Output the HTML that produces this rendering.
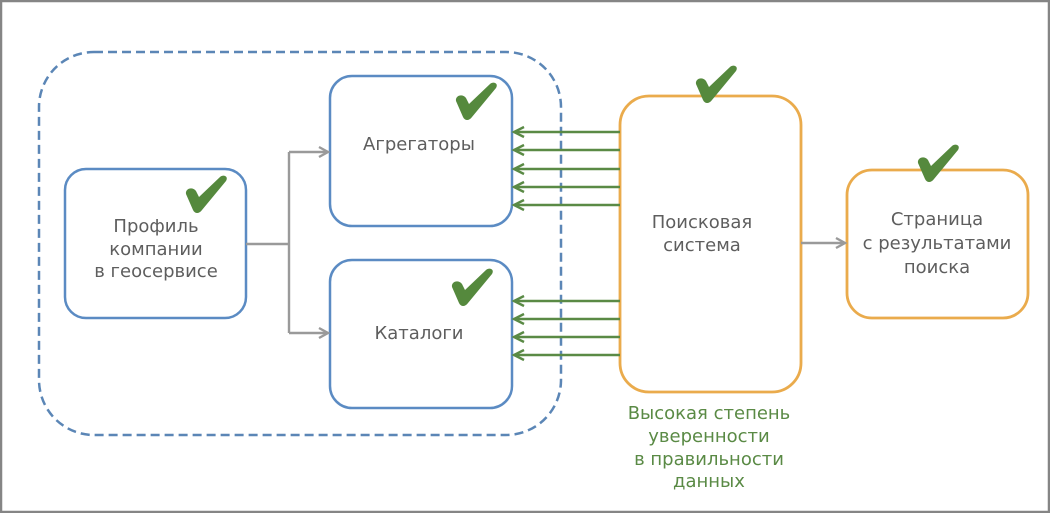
<!DOCTYPE html>
<html>
<head>
<meta charset="utf-8">
<style>
html,body{margin:0;padding:0;background:#fff;}
body{width:1050px;height:513px;overflow:hidden;}
svg{display:block;}
text{font-family:"DejaVu Sans","Liberation Sans",sans-serif;font-size:18px;}
</style>
</head>
<body>
<svg width="1050" height="513" viewBox="0 0 1050 513" xmlns="http://www.w3.org/2000/svg">
  <defs>
    <path id="chk" d="M1,19 C0,14 7,11 11,16 L14,22 L35,2 C38,-1 44,1 41,6 L17,35 C14,39 10,39 8,35 Z" fill="#55893d"/>
  </defs>
  <rect x="0" y="0" width="1050" height="513" fill="#fff"/>
  <rect x="1" y="1" width="1048" height="511" fill="none" stroke="#858585" stroke-width="2.5"/>

  <!-- dashed container -->
  <rect x="39" y="52" width="522" height="383" rx="55" ry="55" fill="none" stroke="#5b86b6" stroke-width="2.5" stroke-dasharray="9 5"/>

  <!-- blue boxes -->
  <rect x="65" y="169" width="181" height="149" rx="21" fill="#fff" stroke="#5b8bc3" stroke-width="2.5"/>
  <rect x="330" y="76" width="182" height="150" rx="22" fill="#fff" stroke="#5b8bc3" stroke-width="2.5"/>
  <rect x="330" y="260" width="182" height="148" rx="22" fill="#fff" stroke="#5b8bc3" stroke-width="2.5"/>

  <!-- orange boxes -->
  <rect x="620" y="96" width="181" height="296" rx="29" fill="#fff" stroke="#eaab4c" stroke-width="2.8"/>
  <rect x="847" y="170" width="181" height="148" rx="25" fill="#fff" stroke="#eaab4c" stroke-width="2.8"/>

  <!-- gray connectors -->
  <g stroke="#9a9a9a" stroke-width="2.4" fill="none">
    <polyline points="246,244 289,244"/>
    <polyline points="289,152 289,333"/>
    <polyline points="289,152 328,152"/>
    <polyline points="289,333 328,333"/>
    <polyline points="319,147 328,152 319,157"/>
    <polyline points="319,328 328,333 319,338"/>
    <polyline points="801,243 845,243"/>
    <polyline points="836,238 845,243 836,248"/>
  </g>

  <!-- green arrows -->
  <g stroke="#5a8a45" stroke-width="2.4" fill="none">
    <line x1="514" y1="132" x2="620" y2="132"/>
    <line x1="514" y1="150" x2="620" y2="150"/>
    <line x1="514" y1="169" x2="620" y2="169"/>
    <line x1="514" y1="187" x2="620" y2="187"/>
    <line x1="514" y1="205" x2="620" y2="205"/>
    <line x1="514" y1="301" x2="620" y2="301"/>
    <line x1="514" y1="319" x2="620" y2="319"/>
    <line x1="514" y1="337" x2="620" y2="337"/>
    <line x1="514" y1="355" x2="620" y2="355"/>
    <polyline points="524,127 514,132 524,137"/>
    <polyline points="524,145 514,150 524,155"/>
    <polyline points="524,164 514,169 524,174"/>
    <polyline points="524,182 514,187 524,192"/>
    <polyline points="524,200 514,205 524,210"/>
    <polyline points="524,296 514,301 524,306"/>
    <polyline points="524,314 514,319 524,324"/>
    <polyline points="524,332 514,337 524,342"/>
    <polyline points="524,350 514,355 524,360"/>
  </g>

  <!-- checkmarks -->
  <use href="#chk" x="185" y="175"/>
  <use href="#chk" x="455" y="82"/>
  <use href="#chk" x="451" y="268"/>
  <use href="#chk" x="695" y="65"/>
  <use href="#chk" x="917" y="144"/>

  <!-- texts -->
  <g fill="#5e5e5e" text-anchor="middle">
    <text x="156" y="232">Профиль</text>
    <text x="156" y="255">компании</text>
    <text x="156" y="277">в геосервисе</text>
    <text x="419" y="150">Агрегаторы</text>
    <text x="419" y="339">Каталоги</text>
    <text x="702" y="228">Поисковая</text>
    <text x="702" y="251">система</text>
    <text x="937" y="225">Страница</text>
    <text x="937" y="249">с результатами</text>
    <text x="937" y="273">поиска</text>
  </g>
  <g fill="#5a8a45" text-anchor="middle">
    <text x="709" y="419">Высокая степень</text>
    <text x="709" y="442">уверенности</text>
    <text x="709" y="465">в правильности</text>
    <text x="709" y="487">данных</text>
  </g>
</svg>
</body>
</html>
